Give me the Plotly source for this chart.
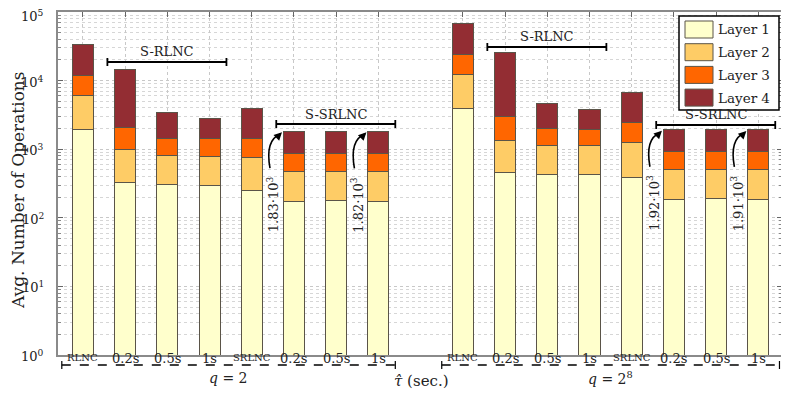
import math
import plotly.graph_objects as go

# bar positions (gap of one slot between q=2 and q=2^8 groups)
positions = [0, 1, 2, 3, 4, 5, 6, 7, 9, 10, 11, 12, 13, 14, 15, 16]
tick_labels = ['RLNC', '0.2s', '0.5s', '1s', 'SRLNC', '0.2s', '0.5s', '1s',
               'RLNC', '0.2s', '0.5s', '1s', 'SRLNC', '0.2s', '0.5s', '1s']

# operations per layer (stacked)
layer1 = [1950, 325, 304, 298, 246, 174, 176, 174,
          3950, 460, 435, 431, 389, 186, 188, 186]
layer2 = [4080, 671, 501, 497, 506, 302, 304, 302,
          8410, 901, 705, 693, 855, 323, 325, 323]
layer3 = [5770, 1064, 637, 627, 690, 384, 382, 384,
          11840, 1589, 880, 846, 1186, 422, 420, 422]
layer4 = [22300, 12340, 2008, 1428, 2448, 970, 968, 960,
          44200, 23150, 2650, 1880, 4390, 989, 982, 979]

layer_names = ['Layer 1', 'Layer 2', 'Layer 3', 'Layer 4']
layer_colors = ['#FFFFCC', '#FECC66', '#FF6600', '#932D33']

y_tick_vals = [1, 10, 100, 1000, 10000, 100000]
y_tick_labels = ['10<sup>0</sup>', '10<sup>1</sup>', '10<sup>2</sup>',
                 '10<sup>3</sup>', '10<sup>4</sup>', '10<sup>5</sup>']

# bars that get a rotated total label with a curved arrow
annotated_idx = [5, 7, 13, 15]
annotated_text = ['1.83', '1.82', '1.92', '1.91']

group_spans = [(-0.5, 7.4), (8.5, 16.5)]
group_labels = ['<i>q</i> = 2', '<i>q</i> = 2<sup>8</sup>']
bracket_labels = ['S-RLNC', 'S-SRLNC', 'S-RLNC', 'S-SRLNC']
bracket_spans = [(1, 3), (5, 7), (10, 12), (14, 16)]
bracket_ypix = [62, 124, 47, 125]

FONT = 'DejaVu Serif'
OFF = 8                       # page body margin
W, H = 789 - OFF, 397 - OFF   # figure size
PX0, PX1, PY0, PY1 = 58, 782, 12, 355   # plot area in window pixels
XR = [-0.59, 16.56]


def xpix(xd):
    return PX0 + (xd - XR[0]) / (XR[1] - XR[0]) * (PX1 - PX0)


def ypix(v):
    return PY1 - math.log10(v) / 5 * (PY1 - PY0)


def pxx(p):
    return (p - PX0) / (PX1 - PX0)


def pxy(p):
    return (PY1 - p) / (PY1 - PY0)


def label(x, y, text, size, xref='paper', **kw):
    d = dict(x=x, y=y, xref=xref, yref='paper', text=text, showarrow=False,
             xanchor='center', yanchor='middle',
             font=dict(family=FONT, size=size, color='#222'))
    d.update(kw)
    return d


fig = go.Figure()
for name, vals, col in zip(layer_names, [layer1, layer2, layer3, layer4], layer_colors):
    fig.add_trace(go.Bar(
        name=name, x=positions, y=vals, width=0.5,
        marker=dict(color=col, line=dict(color='#5a5448', width=1)),
        showlegend=False,
    ))

shapes = []
annotations = []

# y tick labels (top one nudged down so it stays inside the page)
for v, lab in zip(y_tick_vals, y_tick_labels):
    annotations.append(label(pxx(46), math.log10(v), lab, 13, yref='y',
                             xanchor='right',
                             yshift=-4 if v == y_tick_vals[-1] else -1))

# x tick labels
for pos, lab in zip(positions, tick_labels):
    small = lab in ('RLNC', 'SRLNC')
    annotations.append(label(pos, pxy(357 if small else 358), lab,
                             10 if small else 13, xref='x'))

# dashed group lines under the tick labels
for (a, b), glab in zip(group_spans, group_labels):
    shapes.append(dict(type='line', xref='x', yref='paper', x0=a, x1=b,
                       y0=pxy(365), y1=pxy(365),
                       line=dict(color='black', width=1.6, dash='dash')))
    for e in (a, b):
        shapes.append(dict(type='line', xref='x', yref='paper', x0=e, x1=e,
                           y0=pxy(361), y1=pxy(369),
                           line=dict(color='black', width=1.2)))
    annotations.append(label((a + b) / 2, pxy(378), glab, 14, xref='x'))

annotations.append(label(pxx(421), pxy(381), '<i>τ̂</i> (sec.)', 15))

# S-RLNC / S-SRLNC brackets
for lab, (a, b), yp in zip(bracket_labels, bracket_spans, bracket_ypix):
    x0, x1 = a - 0.42, b + 0.4
    shapes.append(dict(type='line', xref='x', yref='paper', x0=x0, x1=x1,
                       y0=pxy(yp), y1=pxy(yp), line=dict(color='black', width=1.8)))
    for e in (x0, x1):
        shapes.append(dict(type='line', xref='x', yref='paper', x0=e, x1=e,
                           y0=pxy(yp - 4), y1=pxy(yp + 4),
                           line=dict(color='black', width=1.8)))
    annotations.append(label((x0 + x1) / 2, pxy(yp - 0.5), lab, 13, xref='x',
                             yanchor='bottom'))

# rotated totals with curved arrows
for i, t in zip(annotated_idx, annotated_text):
    total = layer1[i] + layer2[i] + layer3[i] + layer4[i]
    hx = xpix(positions[i]) - 12
    hy = ypix(total) + 1
    sx, sy = hx - 12, hy + 36
    cx, cy = hx - 17, hy + 8
    shapes.append(dict(type='path', xref='paper', yref='paper',
                       path=f'M {pxx(sx)},{pxy(sy)} Q {pxx(cx)},{pxy(cy)} {pxx(hx - 2)},{pxy(hy + 2)}',
                       line=dict(color='black', width=1.6)))
    annotations.append(dict(x=pxx(hx), y=pxy(hy), xref='paper', yref='paper',
                            text='', showarrow=True, ax=-5, ay=5,
                            arrowhead=2, arrowsize=1, arrowwidth=1.6, arrowcolor='black'))
    annotations.append(label(pxx(hx - 9), pxy(hy + 72), f'{t}·10<sup>3</sup>', 13,
                             textangle=-90))

# hand-drawn legend (large swatches)
shapes.append(dict(type='rect', xref='paper', yref='paper',
                   x0=pxx(679), x1=pxx(779), y0=pxy(16), y1=pxy(110),
                   fillcolor='white', line=dict(color='black', width=1.5)))
for k, (name, col) in enumerate(zip(layer_names, layer_colors)):
    top = 21 + k * 22.7
    shapes.append(dict(type='rect', xref='paper', yref='paper',
                       x0=pxx(685), x1=pxx(713), y0=pxy(top), y1=pxy(top + 17),
                       fillcolor=col, line=dict(color='#5a5448', width=1)))
    annotations.append(label(pxx(716), pxy(top + 8.5), name, 13.5, xanchor='left'))

# y axis title
annotations.append(label(pxx(18), pxy(190), 'Avg. Number of Operations', 17,
                         textangle=-90))

fig.update_layout(
    width=W, height=H,
    margin=dict(l=PX0 - OFF, r=OFF + W - PX1, t=PY0 - OFF, b=OFF + H - PY1,
                autoexpand=False),
    barmode='stack',
    plot_bgcolor='white', paper_bgcolor='white',
    font=dict(family=FONT, color='#222'),
    shapes=shapes, annotations=annotations,
    xaxis=dict(range=XR, tickvals=positions, showticklabels=False, automargin=False,
               ticks='inside', ticklen=5, tickcolor='#666', mirror='allticks',
               showline=True, linecolor='#8a8a8a', linewidth=1.5,
               showgrid=True, gridcolor='#c8c8c8', griddash='dot', gridwidth=1,
               zeroline=False, layer='below traces'),
    yaxis=dict(type='log', range=[0, 5], tickvals=y_tick_vals, showticklabels=False,
               automargin=False,
               ticks='inside', ticklen=5, tickcolor='#666', mirror='allticks',
               showline=True, linecolor='#8a8a8a', linewidth=1.5,
               showgrid=True, gridcolor='#c8c8c8', griddash='dot', gridwidth=1,
               minor=dict(dtick='D1', ticks='inside', ticklen=3, tickcolor='#888',
                          showgrid=True, gridcolor='#d6d6d6', griddash='dot'),
               zeroline=False),
)

fig.write_html('out.html')
